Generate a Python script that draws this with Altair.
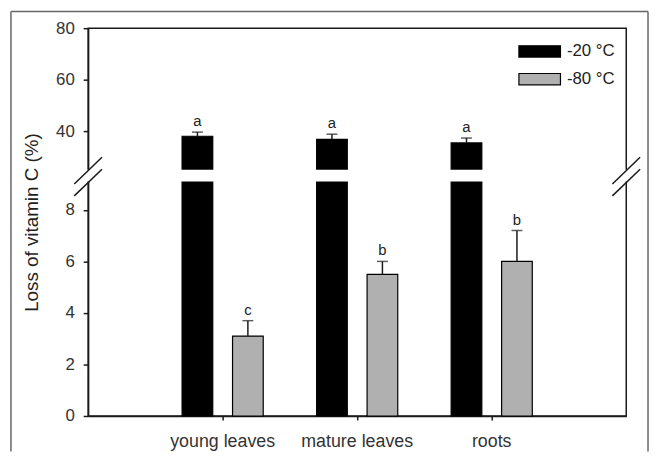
import altair as alt
import pandas as pd

categories = ["young leaves", "mature leaves", "roots"]
series = ["-20 °C", "-80 °C"]
loss_m20 = [38.0, 36.8, 35.4]
err_m20 = [1.6, 2.0, 1.9]
loss_m80 = [3.1, 5.5, 6.0]
err_m80 = [0.6, 0.5, 1.2]
letters_m20 = ["a", "a", "a"]
letters_m80 = ["c", "b", "b"]
y_ticks = [0, 2, 4, 6, 8, 40, 60, 80]
break_low, break_high = 9.1, 25

rows = []
for i, c in enumerate(categories):
    rows.append(dict(category=c, series=series[0], value=loss_m20[i], upper=loss_m20[i] + err_m20[i], letter=letters_m20[i]))
    rows.append(dict(category=c, series=series[1], value=loss_m80[i], upper=loss_m80[i] + err_m80[i], letter=letters_m80[i]))
df = pd.DataFrame(rows)

W, H = 544, 392
ink = "#1a1a1a"

x = alt.X("category:N", sort=categories, title=None,
          scale=alt.Scale(paddingInner=0, paddingOuter=0.5),
          axis=alt.Axis(labelAngle=0, labelFontSize=18, labelColor="#333", tickSize=4,
                        tickColor=ink, domainColor=ink, domainWidth=1.5, tickWidth=1.5,
                        labelPadding=13, zindex=0))
xo = alt.XOffset("series:N", sort=series,
                 scale=alt.Scale(paddingInner=0.392, paddingOuter=0.529))
yscale = alt.Scale(domain=[0, break_low, break_high, 80], range=[H, 155, 143, 0], nice=False)
y = alt.Y("value:Q", scale=yscale, title="Loss of vitamin C (%)",
          axis=alt.Axis(values=y_ticks, labelFontSize=17, labelColor="#333", tickSize=5,
                        labelPadding=9, tickColor=ink, domainColor=ink, domainWidth=1.5,
                        tickWidth=1.5, grid=False, titleFontSize=19, titleFontWeight="normal",
                        titleColor="#222", titlePadding=14, zindex=0))

base = alt.Chart(df)

bars = base.mark_bar(stroke="black", strokeWidth=1.2).encode(
    x=x, xOffset=xo, y=y,
    fill=alt.Fill("series:N", sort=series,
                  scale=alt.Scale(domain=series, range=["#000000", "#b0b0b0"]),
                  legend=alt.Legend(title=None, orient="none", legendX=448, legendY=15,
                                    symbolType="M-3.5,-0.95H3.5V0.95H-3.5Z", symbolSize=144,
                                    symbolStrokeColor="black", symbolStrokeWidth=1.2,
                                    labelFontSize=17, labelColor="#222", labelOffset=19,
                                    rowPadding=10)),
)

err_rule = base.mark_rule(color=ink, strokeWidth=1.5).encode(
    x=x, xOffset=xo, y=alt.Y("value:Q", scale=yscale), y2="upper:Q")
err_cap = base.mark_tick(color=ink, size=11, thickness=1.5).encode(
    x=x, xOffset=xo, y=alt.Y("upper:Q", scale=yscale))
letters = base.mark_text(baseline="alphabetic", dy=-6, fontSize=15, color="#222").encode(
    x=x, xOffset=xo, y=alt.Y("upper:Q", scale=yscale), text="letter:N")

gap = alt.Chart(pd.DataFrame({"lo": [break_low], "hi": [break_high]})).mark_rect(color="white").encode(
    x=alt.value(-3), x2=alt.value(W + 3),
    y=alt.Y("lo:Q", scale=yscale), y2="hi:Q")

slash_df = pd.DataFrame({"lvl": [break_high, break_low]})
slashes = []
for cx in (0, W):
    slashes.append(
        alt.Chart(slash_df).mark_rule(color=ink, strokeWidth=1.5, yOffset=14.5, y2Offset=-12.5).encode(
            x=alt.value(cx - 14), x2=alt.value(cx + 14),
            y=alt.Y("lvl:Q", scale=yscale), y2="lvl:Q"))

one = pd.DataFrame({"k": [0]})
frame_col = "#666"
frame = [
    alt.Chart(one).mark_rule(color=frame_col, strokeWidth=1.5).encode(
        x=alt.value(-78), x2=alt.value(566), y=alt.value(-17)),
    alt.Chart(one).mark_rule(color=frame_col, strokeWidth=1.5).encode(
        x=alt.value(-78), y=alt.value(-17), y2=alt.value(428)),
    alt.Chart(one).mark_rule(color=frame_col, strokeWidth=1.5).encode(
        x=alt.value(566), y=alt.value(-17), y2=alt.value(428)),
]

chart = alt.layer(bars, err_rule, err_cap, letters, gap, *slashes, *frame).properties(
    width=W, height=H,
    padding={"left": 2, "top": 0, "right": 0, "bottom": 0},
).configure(font="Liberation Sans").configure_view(stroke=ink, strokeWidth=1.5)

chart.save("out.html", embed_options={"renderer": "svg", "actions": False})
